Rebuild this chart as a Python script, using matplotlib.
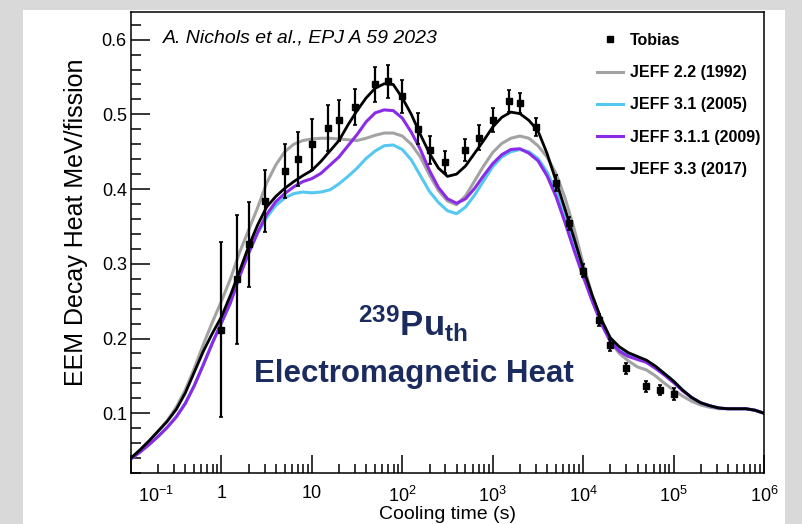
import numpy as np
import matplotlib
matplotlib.use("Agg")
import matplotlib.pyplot as plt
import matplotlib.transforms as mtransforms
from matplotlib.patches import Rectangle
from matplotlib.lines import Line2D
from matplotlib.ticker import FixedLocator, LogLocator, MultipleLocator, NullFormatter

plt.rcParams['font.family'] = ['Liberation Sans', 'DejaVu Sans']
plt.rcParams['mathtext.fontset'] = 'custom'
plt.rcParams['mathtext.rm'] = 'Liberation Sans'
plt.rcParams['mathtext.it'] = 'Liberation Sans:italic'
plt.rcParams['mathtext.bf'] = 'Liberation Sans:bold'

# ---- data ----
# curves sampled every 0.1 decade from 10^-1 s to 10^6 s
cool_t = 10 ** (np.arange(-10, 61) / 10)

jeff22 = [0.040, 0.051, 0.063, 0.076, 0.090, 0.108, 0.131, 0.160, 0.192, 0.222,
          0.250, 0.280, 0.315, 0.345, 0.375, 0.408, 0.432, 0.450, 0.460, 0.465,
          0.467, 0.468, 0.468, 0.467, 0.466, 0.465, 0.468, 0.472, 0.475, 0.475,
          0.471, 0.460, 0.443, 0.419, 0.398, 0.384, 0.379, 0.391, 0.411, 0.431,
          0.449, 0.461, 0.468, 0.471, 0.468, 0.458, 0.443, 0.421, 0.388, 0.347,
          0.300, 0.258, 0.224, 0.196, 0.180, 0.170, 0.162, 0.158, 0.150, 0.140,
          0.131, 0.123, 0.116, 0.111, 0.108, 0.106, 0.106, 0.106, 0.106, 0.104,
          0.100]

jeff31 = [0.039, 0.048, 0.058, 0.069, 0.081, 0.095, 0.113, 0.137, 0.165, 0.194,
          0.221, 0.248, 0.283, 0.314, 0.341, 0.362, 0.378, 0.388, 0.394, 0.396,
          0.395, 0.396, 0.399, 0.407, 0.417, 0.428, 0.441, 0.451, 0.458, 0.459,
          0.453, 0.439, 0.418, 0.397, 0.382, 0.371, 0.367, 0.376, 0.392, 0.411,
          0.430, 0.443, 0.450, 0.453, 0.450, 0.441, 0.423, 0.397, 0.364, 0.328,
          0.290, 0.255, 0.224, 0.200, 0.186, 0.179, 0.175, 0.170, 0.162, 0.153,
          0.143, 0.131, 0.121, 0.114, 0.110, 0.107, 0.106, 0.106, 0.106, 0.104,
          0.100]

jeff311 = [0.039, 0.048, 0.058, 0.069, 0.081, 0.095, 0.113, 0.137, 0.165, 0.194,
           0.221, 0.248, 0.283, 0.314, 0.342, 0.366, 0.383, 0.394, 0.403, 0.410,
           0.414, 0.421, 0.432, 0.443, 0.458, 0.473, 0.490, 0.502, 0.506, 0.505,
           0.495, 0.476, 0.453, 0.425, 0.402, 0.387, 0.381, 0.387, 0.401, 0.418,
           0.434, 0.446, 0.453, 0.454, 0.448, 0.438, 0.418, 0.390, 0.355, 0.318,
           0.283, 0.250, 0.220, 0.196, 0.183, 0.176, 0.172, 0.168, 0.160, 0.151,
           0.141, 0.130, 0.121, 0.114, 0.110, 0.107, 0.106, 0.106, 0.106, 0.104,
           0.100]

jeff33 = [0.040, 0.051, 0.063, 0.076, 0.089, 0.105, 0.127, 0.155, 0.183, 0.207,
          0.229, 0.258, 0.290, 0.323, 0.352, 0.376, 0.390, 0.401, 0.410, 0.418,
          0.425, 0.437, 0.451, 0.465, 0.486, 0.505, 0.522, 0.535, 0.541, 0.540,
          0.522, 0.500, 0.473, 0.448, 0.428, 0.417, 0.420, 0.431, 0.448, 0.465,
          0.483, 0.496, 0.503, 0.501, 0.492, 0.478, 0.448, 0.411, 0.373, 0.334,
          0.294, 0.258, 0.226, 0.201, 0.189, 0.181, 0.176, 0.171, 0.163, 0.153,
          0.143, 0.131, 0.121, 0.114, 0.110, 0.107, 0.106, 0.106, 0.106, 0.104,
          0.100]

tobias_t = [1, 1.5, 2, 3, 5, 7, 10, 15, 20, 30, 50, 70, 100, 150, 200, 300, 500,
            700, 1000, 1500, 2000, 3000, 5000, 7000, 1e4, 1.5e4, 2e4, 3e4, 5e4,
            7e4, 1e5]
tobias_val = [0.212, 0.279, 0.326, 0.384, 0.424, 0.440, 0.460, 0.482, 0.492,
              0.510, 0.540, 0.544, 0.524, 0.481, 0.452, 0.436, 0.452, 0.469,
              0.493, 0.518, 0.515, 0.483, 0.408, 0.354, 0.291, 0.225, 0.191,
              0.160, 0.136, 0.131, 0.126]
tobias_err = [0.117, 0.086, 0.057, 0.042, 0.036, 0.036, 0.034, 0.031, 0.027,
              0.024, 0.023, 0.022, 0.022, 0.021, 0.019, 0.015, 0.015, 0.017,
              0.016, 0.015, 0.013, 0.012, 0.011, 0.009, 0.009, 0.008, 0.008,
              0.007, 0.007, 0.007, 0.008]

x_ticks = [0.1, 1, 10, 100, 1e3, 1e4, 1e5, 1e6]
x_ticklabels = ['$10^{-1}$', '1', '10', '$10^{2}$', '$10^{3}$', '$10^{4}$',
                '$10^{5}$', '$10^{6}$']
y_ticks = [0.1, 0.2, 0.3, 0.4, 0.5, 0.6]

navy = '#1b2b5e'

# ---- figure: slide background ----
fig = plt.figure(figsize=(8.02, 5.24), dpi=100, facecolor='#d9d9d9')
fig.patches.append(Rectangle((23 / 802, 0), 762 / 802, 514 / 524,
                             transform=fig.transFigure, facecolor='white',
                             edgecolor='none', zorder=-10))

ax = fig.add_axes([131 / 802, 51 / 524, 633 / 802, 461 / 524])
ax.set_facecolor('white')

ax.plot(cool_t, jeff22, color='#a3a3a3', lw=2.2, label='JEFF 2.2 (1992)')
ax.plot(cool_t, jeff31, color='#55c8f2', lw=2.2, label='JEFF 3.1 (2005)')
ax.plot(cool_t, jeff311, color='#8a2be8', lw=2.2, label='JEFF 3.1.1 (2009)')
ax.plot(cool_t, jeff33, color='black', lw=2.0, label='JEFF 3.3 (2017)')
ax.errorbar(tobias_t, tobias_val, yerr=tobias_err, fmt='none', ecolor='black',
            elinewidth=1.6, capsize=1.5, capthick=1.2, zorder=5)
ax.plot(tobias_t, tobias_val, 's', color='black', ms=4, zorder=6)

ax.set_xscale('log')
ax.set_xlim(0.1, 1e6)
ax.set_ylim(0.02, 0.637)

ax.xaxis.set_major_locator(FixedLocator(x_ticks))
ax.set_xticklabels(x_ticklabels)
ax.xaxis.set_minor_locator(LogLocator(base=10, subs=np.arange(2, 10), numticks=20))
ax.xaxis.set_minor_formatter(NullFormatter())
ax.yaxis.set_major_locator(FixedLocator(y_ticks))
ax.set_yticklabels(['%.1f' % v for v in y_ticks])
ax.yaxis.set_minor_locator(MultipleLocator(0.02))

ax.tick_params(which='both', direction='in', top=False, right=False,
               labelsize=13, width=1.1)
ax.tick_params(axis='x', which='major', length=13, pad=9)
ax.tick_params(axis='x', which='minor', length=6.5)
ax.tick_params(axis='y', which='major', length=14, pad=3)
ax.tick_params(axis='y', which='minor', length=7)
for s in ax.spines.values():
    s.set_linewidth(1.1)

# ROOT draws the first log label shifted inside the frame
first = ax.get_xticklabels()[0]
first.set_transform(first.get_transform()
                    + mtransforms.ScaledTranslation(25 / 100, 0, fig.dpi_scale_trans))

ax.set_xlabel('Cooling time (s)', fontsize=14, labelpad=0)
ax.set_ylabel('EEM Decay Heat MeV/fission', fontsize=18)
ax.yaxis.set_label_coords(-0.068, 0.544)

ax.text(0.0506, 0.934, 'A. Nichols et al., EPJ A 59 2023', transform=ax.transAxes,
        fontsize=14, style='italic', va='baseline', ha='left')

ax.text(0.446, 0.296, r'$\mathbf{^{239}Pu_{th}}$', transform=ax.transAxes,
        fontsize=25, color=navy, ha='center', va='baseline')
ax.text(0.447, 0.197, 'Electromagnetic Heat', transform=ax.transAxes,
        fontsize=22.5, fontweight='bold', color=navy, ha='center', va='baseline')

handles = [Line2D([], [], ls='none', marker='s', color='black', ms=4)]
handles += ax.get_lines()[:4]
labels = ['Tobias'] + [h.get_label() for h in ax.get_lines()[:4]]
ax.legend(handles, labels, loc='upper left', bbox_to_anchor=(597 / 802, 1 - 33 / 524),
          bbox_transform=fig.transFigure, frameon=False, borderpad=0,
          borderaxespad=0, handlelength=1.6, handletextpad=0.45,
          labelspacing=1.08, prop={'weight': 'bold', 'size': 11.5})

fig.savefig('out.png', dpi=100, facecolor=fig.get_facecolor())
